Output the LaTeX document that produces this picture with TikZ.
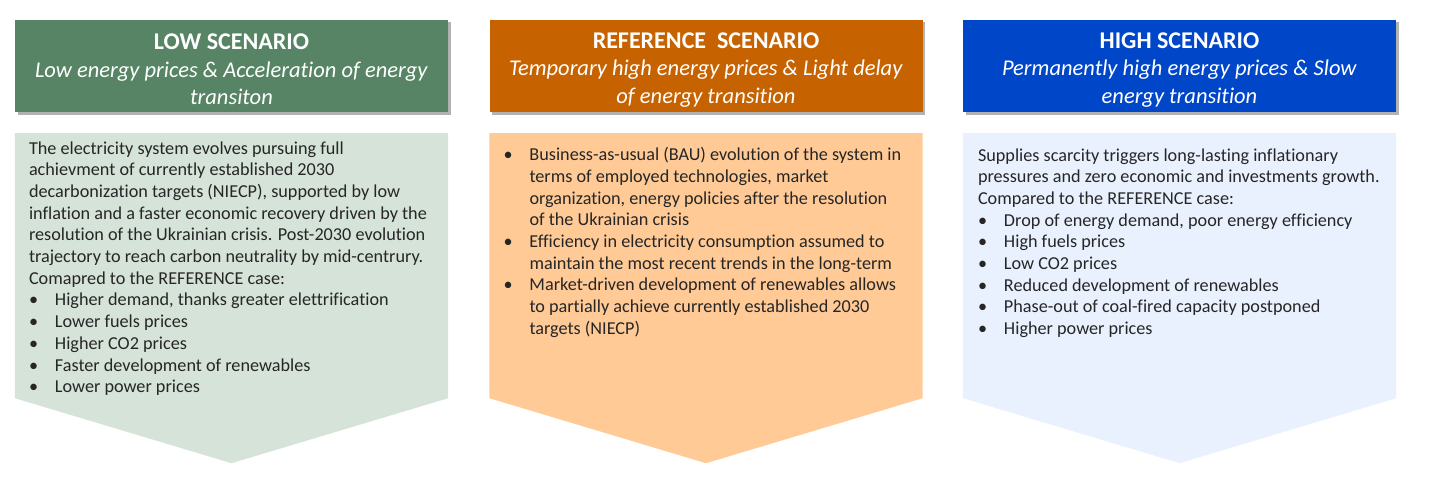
\documentclass[tikz,border=0pt]{standalone}
\usepackage{fontspec}
\setmainfont{Carlito}[Ligatures=NoCommon]
\usetikzlibrary{calc,positioning,shadows}
\definecolor{lowgreen}{HTML}{568465}
\definecolor{lowsoft}{HTML}{D6E3D8}
\definecolor{reforange}{HTML}{C66300}
\definecolor{refsoft}{HTML}{FFCA96}
\definecolor{highblue}{HTML}{0046C8}
\definecolor{highsoft}{HTML}{E9F1FE}
\definecolor{bodygray}{HTML}{262626}
\tikzset{
  headbox/.style={minimum width=433pt, minimum height=92pt, inner sep=0pt, text=white, align=center,
    font=\fontsize{22.5}{27.5}\selectfont,
    drop shadow={shadow xshift=2.5pt, shadow yshift=-2.5pt, fill=black, opacity=0.3}},
  bodytext/.style={anchor=north west, inner sep=0pt, align=left, text=bodygray,
    font=\fontsize{18.2}{21.7}\selectfont}
}
\newcommand{\htitle}[1]{\rule{0pt}{23pt}{\fontsize{24}{27.5}\selectfont\bfseries #1}}
\newcommand{\bitem}[1]{\makebox[26pt][l]{\textbullet}#1}
\newcommand{\bcont}[1]{\hspace*{26pt}#1}
\begin{document}
\begin{tikzpicture}[x=1pt, y=-1pt]
  \useasboundingbox (0,0) rectangle (1441,495);
  % scenario headers
  \node[headbox, fill=lowgreen] (lowhead) at (231.5,66) {\htitle{LOW SCENARIO}\\\textit{Low energy prices \& Acceleration of energy}\\\textit{transiton}};
  \node[headbox, fill=reforange] (refhead) at (706,66) {\htitle{REFERENCE\ \ SCENARIO}\\\textit{Temporary high energy prices \& Light delay}\\\textit{of energy transition}};
  \node[headbox, fill=highblue] (highhead) at (1179.5,66) {\htitle{HIGH SCENARIO}\\\textit{Permanently high energy prices \& Slow}\\\textit{energy transition}};
  % arrow-shaped bodies
  \foreach \s/\c in {low/lowsoft, ref/refsoft, high/highsoft}{
    \fill[\c] ($(\s head.south west)+(0,21)$) -- ($(\s head.south east)+(0,21)$)
      -- ($(\s head.south east)+(0,286)$) -- ($(\s head.south)+(0,351)$)
      -- ($(\s head.south west)+(0,286)$) -- cycle;
  }
  % body texts
  \node[bodytext] (lowtext) at ($(lowhead.south west)+(14,29)$) {The electricity system evolves pursuing full\\
    achievment of currently established 2030\\
    decarbonization targets (NIECP), supported by low\\
    inflation and a faster economic recovery driven by the\\
    resolution of the Ukrainian crisis. Post-2030 evolution\\
    trajectory to reach carbon neutrality by mid-centrury.\\
    Comapred to the REFERENCE case:\\
    \bitem{Higher demand, thanks greater elettrification}\\
    \bitem{Lower fuels prices}\\
    \bitem{Higher CO2 prices}\\
    \bitem{Faster development of renewables}\\
    \bitem{Lower power prices}};
  \node[bodytext] (reftext) at ($(refhead.south west)+(14,35)$) {\bitem{Business-as-usual (BAU) evolution of the system in}\\
    \bcont{terms of employed technologies, market}\\
    \bcont{organization, energy policies after the resolution}\\
    \bcont{of the Ukrainian crisis}\\
    \bitem{Efficiency in electricity consumption assumed to}\\
    \bcont{maintain the most recent trends in the long-term}\\
    \bitem{Market-driven development of renewables allows}\\
    \bcont{to partially achieve currently established 2030}\\
    \bcont{targets (NIECP)}};
  \node[bodytext] (hightext) at ($(highhead.south west)+(15,36)$) {Supplies scarcity triggers long-lasting inflationary\\
    pressures and zero economic and investments growth.\\
    Compared to the REFERENCE case:\\
    \bitem{Drop of energy demand, poor energy efficiency}\\
    \bitem{High fuels prices}\\
    \bitem{Low CO2 prices}\\
    \bitem{Reduced development of renewables}\\
    \bitem{Phase-out of coal-fired capacity postponed}\\
    \bitem{Higher power prices}};
\end{tikzpicture}
\end{document}
